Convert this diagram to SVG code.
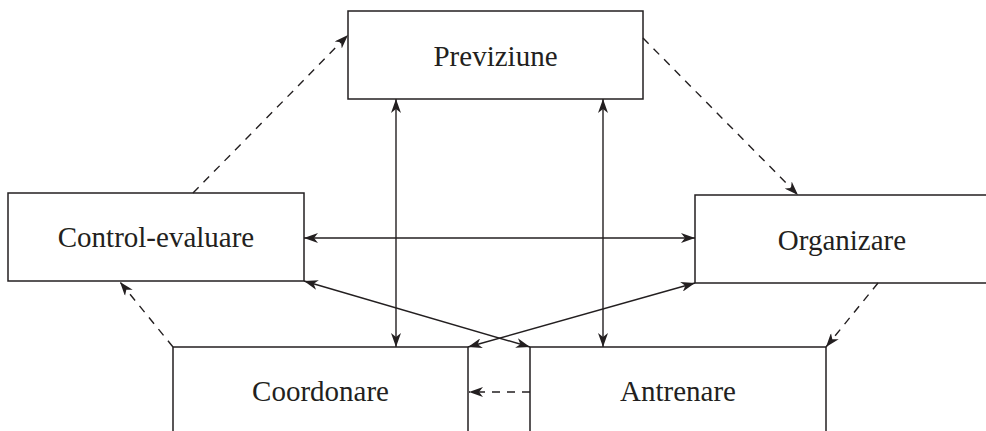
<svg xmlns="http://www.w3.org/2000/svg" width="986" height="431" viewBox="0 0 986 431">
  <style>
    .box { fill: #fff; stroke: #231f20; stroke-width: 1.5; }
    .lbl { font-family: "Liberation Serif", "Times New Roman", serif; font-size: 29px; fill: #231f20; text-anchor: middle; }
    .link { fill: none; stroke: #231f20; stroke-width: 1.4; }
    .dash { stroke-dasharray: 8 7; }
  </style>
  <defs>
    <marker id="arr" viewBox="0 0 14 10" refX="14" refY="5" markerWidth="14" markerHeight="10" orient="auto-start-reverse" markerUnits="userSpaceOnUse">
      <path d="M0,0 L14,5 L0,10 L4,5 z" fill="#231f20"/>
    </marker>
  </defs>

  <rect width="986" height="431" fill="#fff"/>

  <g id="node-previziune">
    <rect class="box" x="348" y="11" width="295" height="88"/>
    <text class="lbl" x="495.5" y="66">Previziune</text>
  </g>
  <g id="node-control-evaluare">
    <rect class="box" x="8" y="193" width="296" height="88"/>
    <text class="lbl" x="156" y="247">Control-evaluare</text>
  </g>
  <g id="node-organizare">
    <rect class="box" x="695" y="195" width="300" height="88"/>
    <text class="lbl" x="842" y="250">Organizare</text>
  </g>
  <g id="node-coordonare">
    <rect class="box" x="173" y="347" width="295" height="100"/>
    <text class="lbl" x="320.5" y="401">Coordonare</text>
  </g>
  <g id="node-antrenare">
    <rect class="box" x="530" y="347" width="296" height="100"/>
    <text class="lbl" x="678" y="401">Antrenare</text>
  </g>

  <g id="connectors">
    <!-- dashed cycle -->
    <line class="link dash" x1="193" y1="193" x2="348" y2="35" marker-end="url(#arr)"/>
    <line class="link dash" x1="643" y1="38" x2="798" y2="195" marker-end="url(#arr)"/>
    <line class="link dash" x1="878" y1="283" x2="826" y2="347" marker-end="url(#arr)"/>
    <line class="link dash" x1="530" y1="392" x2="469" y2="392" marker-end="url(#arr)"/>
    <line class="link dash" x1="173" y1="347" x2="120" y2="282" marker-end="url(#arr)"/>
    <!-- two-way links -->
    <line class="link" x1="396" y1="99" x2="396" y2="347" marker-start="url(#arr)" marker-end="url(#arr)"/>
    <line class="link" x1="603" y1="99" x2="603" y2="347" marker-start="url(#arr)" marker-end="url(#arr)"/>
    <line class="link" x1="304" y1="238" x2="695" y2="238" marker-start="url(#arr)" marker-end="url(#arr)"/>
    <line class="link" x1="304" y1="281" x2="530" y2="347" marker-start="url(#arr)" marker-end="url(#arr)"/>
    <line class="link" x1="695" y1="283" x2="468" y2="347" marker-start="url(#arr)" marker-end="url(#arr)"/>
  </g>
</svg>
